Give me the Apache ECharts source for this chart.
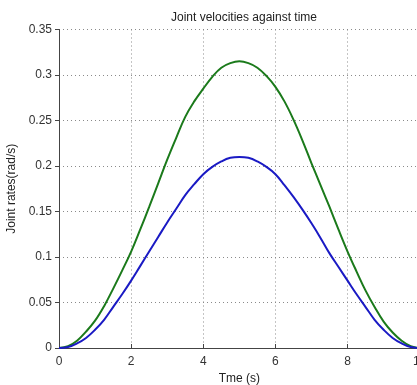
<!DOCTYPE html>
<html>
<head>
<meta charset="utf-8">
<script src="https://cdn.jsdelivr.net/npm/echarts@6/dist/echarts.min.js"></script>
<style>
html,body{margin:0;padding:0;background:#fff;}
#c{width:417px;height:385px;}
</style>
</head>
<body>
<div id="c"></div>
<script>
var times = [0,0.25,0.5,0.75,1,1.25,1.5,1.75,2,2.25,2.5,2.75,3,3.25,3.5,3.75,4,4.25,4.5,4.75,5,
             5.25,5.5,5.75,6,6.25,6.5,6.75,7,7.25,7.5,7.75,8,8.25,8.5,8.75,9,9.25,9.5,9.75,10];
var greenRates = [0,0.002,0.008,0.018,0.030,0.046,0.065,0.085,0.106,0.130,0.155,0.181,0.207,0.231,0.254,0.271,0.285,0.298,0.308,0.313,0.315,
                  0.313,0.308,0.299,0.287,0.271,0.251,0.228,0.203,0.179,0.155,0.130,0.106,0.084,0.063,0.045,0.029,0.017,0.008,0.002,0];
var blueRates  = [0,0.001,0.005,0.011,0.020,0.031,0.045,0.059,0.074,0.090,0.106,0.122,0.138,0.153,0.168,0.180,0.191,0.199,0.205,0.209,0.210,
                  0.209,0.205,0.199,0.191,0.179,0.166,0.152,0.137,0.121,0.104,0.089,0.074,0.059,0.045,0.031,0.020,0.011,0.005,0.001,0];
var xTicks = [0,2,4,6,8,10];
var yTicks = [0,0.05,0.1,0.15,0.2,0.25,0.3,0.35];

function pairs(vals){ return times.map(function(t,i){ return [t, vals[i]]; }); }

var font = 'Liberation Sans, Arial, sans-serif';
var chart = echarts.init(document.getElementById('c'));
chart.setOption({
  backgroundColor: '#ffffff',
  animation: false,
  title: {
    text: 'Joint velocities against time',
    left: 239, top: 7, textAlign: 'center',
    textStyle: {fontSize: 12, fontWeight: 'normal', color: '#222', fontFamily: font}
  },
  grid: {left: 59, top: 29.5, width: 360.7, height: 318.5, containLabel: false, outerBoundsMode: 'none'},
  xAxis: {
    type: 'value', min: xTicks[0], max: xTicks[xTicks.length-1], interval: 2,
    name: 'Tme (s)', nameLocation: 'middle', nameGap: 21,
    nameTextStyle: {fontSize: 12, color: '#222', fontFamily: font},
    axisLine: {show: true, onZero: false, lineStyle: {color: '#444', width: 1}},
    axisTick: {show: true, inside: true, length: 4, lineStyle: {color: '#444'}},
    axisLabel: {fontSize: 12, color: '#333', margin: 8, fontFamily: font},
    splitLine: {show: true, lineStyle: {color: '#8a8a8a', type: [1, 3], width: 1}}
  },
  yAxis: {
    type: 'value', min: yTicks[0], max: yTicks[yTicks.length-1], interval: 0.05,
    name: 'Joint rates(rad/s)', nameLocation: 'middle', nameGap: 38,
    nameTextStyle: {fontSize: 12, color: '#222', fontFamily: font},
    axisLine: {show: true, lineStyle: {color: '#444', width: 1}},
    axisTick: {show: true, inside: false, length: 4, lineStyle: {color: '#444'}},
    axisLabel: {fontSize: 12, color: '#333', margin: 7, fontFamily: font},
    splitLine: {show: true, lineStyle: {color: '#8a8a8a', type: [1, 3], width: 1}}
  },
  series: [
    {type: 'line', data: pairs(greenRates), smooth: 0.4, showSymbol: false,
     lineStyle: {color: '#1b7a1b', width: 2}, itemStyle: {color: '#1b7a1b'}, z: 3},
    {type: 'line', data: pairs(blueRates), smooth: 0.4, showSymbol: false,
     lineStyle: {color: '#1a1ac4', width: 2}, itemStyle: {color: '#1a1ac4'}, z: 4}
  ]
});
</script>
</body>
</html>
